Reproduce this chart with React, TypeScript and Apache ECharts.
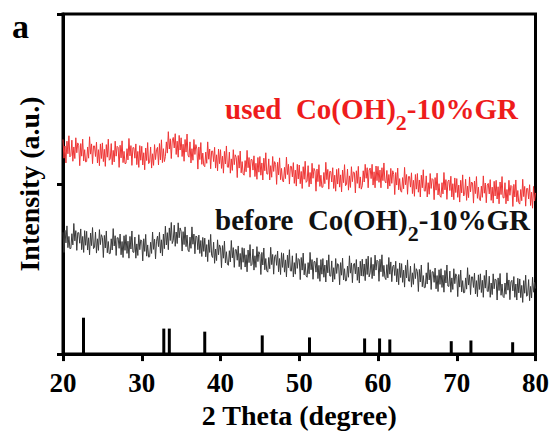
import React, { useEffect, useRef } from "react";
import * as echarts from "echarts";

// Scan grid of the diffractograms (2θ, degrees)
const X_START = 20;
const X_STEP = 0.125;

// used Co(OH)2-10%GR, intensity (a.u.), one value per step (8 per degree)
const usedIntensity = [
  63.1, 57.6, 61.2, 56.2, 62.6, 58.9, 64.2, 58.0,
  58.4, 62.9, 56.7, 60.9, 57.5, 63.6, 59.2, 62.1,
  61.3, 55.4, 61.9, 58.2, 63.2, 56.8, 60.1, 56.5,
  56.6, 60.9, 57.6, 63.9, 58.8, 61.8, 56.0, 61.2,
  61.2, 58.1, 62.3, 56.2, 60.1, 55.4, 61.8, 57.5,
  62.1, 56.6, 60.2, 55.2, 61.6, 57.9, 63.2, 57.0,
  57.4, 61.9, 55.7, 59.9, 56.5, 62.6, 58.2, 61.1,
  60.8, 54.9, 61.4, 57.7, 62.7, 56.3, 59.6, 56.0,
  56.1, 60.4, 57.1, 63.4, 58.3, 61.3, 55.5, 60.7,
  60.7, 57.6, 61.8, 55.7, 59.6, 54.9, 61.3, 57.0,
  61.1, 55.6, 59.2, 54.2, 60.6, 56.9, 62.2, 56.0,
  56.4, 60.9, 54.7, 58.9, 55.5, 61.6, 57.2, 60.1,
  60.8, 55.6, 61.9, 57.1, 63.0, 56.3, 60.4, 56.6,
  58.1, 62.4, 59.1, 65.4, 60.3, 63.3, 57.5, 62.7,
  63.7, 60.6, 64.8, 58.7, 62.6, 57.9, 64.3, 60.0,
  63.6, 58.1, 61.7, 56.7, 63.1, 59.4, 64.7, 58.5,
  57.9, 62.4, 56.2, 60.4, 57.0, 63.1, 58.7, 61.6,
  60.3, 54.4, 60.9, 57.2, 62.2, 55.8, 59.1, 55.5,
  55.1, 59.4, 56.1, 62.4, 57.3, 60.3, 54.5, 59.7,
  59.7, 56.6, 60.8, 54.7, 58.6, 53.9, 60.3, 56.0,
  60.1, 54.6, 58.2, 53.2, 59.6, 55.9, 61.2, 55.0,
  54.9, 59.4, 53.2, 57.4, 54.0, 60.1, 55.7, 58.6,
  57.8, 51.9, 58.4, 54.7, 59.7, 53.3, 56.6, 53.0,
  52.6, 56.9, 53.6, 59.9, 54.8, 57.8, 52.0, 57.2,
  57.2, 54.1, 58.3, 52.2, 56.1, 51.4, 57.8, 53.5,
  58.1, 52.6, 56.2, 51.2, 57.6, 53.9, 59.2, 53.0,
  52.9, 57.4, 51.2, 55.4, 52.0, 58.1, 53.7, 56.6,
  55.8, 49.9, 56.4, 52.7, 57.7, 51.3, 54.6, 51.0,
  50.6, 54.9, 51.6, 57.9, 52.8, 55.8, 50.0, 55.2,
  55.2, 52.1, 56.3, 50.2, 54.1, 49.4, 55.8, 51.5,
  55.6, 50.1, 53.7, 48.7, 55.1, 51.4, 56.7, 50.5,
  50.9, 55.4, 49.2, 53.4, 50.0, 56.1, 51.7, 54.6,
  53.8, 47.9, 54.4, 50.7, 55.7, 49.3, 52.6, 49.0,
  49.1, 53.4, 50.1, 56.4, 51.3, 54.3, 48.5, 53.7,
  53.7, 50.6, 54.8, 48.7, 52.6, 47.9, 54.3, 50.0,
  54.6, 49.1, 52.7, 47.7, 54.1, 50.4, 55.7, 49.5,
  49.9, 54.4, 48.2, 52.4, 49.0, 55.1, 50.7, 53.6,
  53.3, 47.4, 53.9, 50.2, 55.2, 48.8, 52.1, 48.5,
  49.5, 53.9, 50.6, 55.8, 51.7, 54.8, 48.9, 54.1,
  54.7, 51.6, 55.8, 49.7, 53.6, 48.9, 55.3, 51.0,
  55.2, 50.5, 54.1, 48.9, 54.8, 51.0, 56.2, 50.9,
  50.3, 54.0, 48.6, 52.8, 49.4, 54.6, 50.2, 53.9,
  52.8, 46.9, 53.4, 49.7, 54.7, 48.3, 51.6, 48.0,
  47.6, 51.9, 48.6, 54.9, 49.8, 52.8, 47.0, 52.2,
  52.2, 49.1, 53.3, 47.2, 51.1, 46.4, 52.8, 48.5,
  53.1, 47.6, 51.2, 46.2, 52.6, 48.9, 54.2, 48.0,
  47.9, 52.4, 46.2, 50.4, 47.0, 53.1, 48.7, 51.6,
  51.3, 45.4, 51.9, 48.2, 53.2, 46.8, 50.1, 46.5,
  46.1, 50.4, 47.1, 53.4, 48.3, 51.3, 45.5, 50.7,
  51.2, 48.1, 52.3, 46.2, 50.1, 45.4, 51.8, 47.5,
  51.6, 46.1, 49.7, 44.7, 51.1, 47.4, 52.7, 46.5,
  46.9, 51.4, 45.2, 49.4, 46.0, 52.1, 47.7, 50.6,
  50.3, 44.4, 50.9, 47.2, 52.2, 45.8, 49.1, 45.5,
  45.1, 49.4, 46.1, 52.4, 47.3, 50.3, 44.5, 49.7,
  50.2, 47.1, 51.3, 45.2, 49.1, 44.4, 50.8, 46.5,
  51.1, 45.6, 49.2, 44.2, 50.6, 46.9, 52.2, 46.0,
  45.9, 50.4, 44.2, 48.4, 45.0, 51.1, 46.7, 49.6,
  49.3, 43.4, 49.9, 46.2, 51.2, 44.8, 48.1, 44.5,
  44.1, 48.4, 45.1, 51.4, 46.3, 49.3, 43.5, 48.7,
  48.7, 45.6, 49.8, 43.7, 47.6, 42.9, 49.3, 45.0,
  47.4,
];

// before Co(OH)2-10%GR, intensity (a.u.), one value per step (8 per degree)
const beforeIntensity = [
  35.8, 29.9, 36.4, 32.7, 37.7, 31.3, 34.6, 31.0,
  31.1, 35.4, 32.1, 38.4, 33.3, 36.3, 30.5, 35.7,
  35.7, 32.6, 36.8, 30.7, 34.6, 29.9, 36.3, 32.0,
  36.1, 30.6, 34.2, 29.2, 35.6, 31.9, 37.2, 31.0,
  31.4, 35.9, 29.7, 33.9, 30.5, 36.6, 32.2, 35.1,
  34.3, 28.4, 34.9, 31.2, 36.2, 29.8, 33.1, 29.5,
  29.6, 33.9, 30.6, 36.9, 31.8, 34.8, 29.0, 34.2,
  34.2, 31.1, 35.3, 29.2, 33.1, 28.4, 34.8, 30.5,
  35.1, 29.6, 33.2, 28.2, 34.6, 30.9, 36.2, 30.0,
  29.9, 34.4, 28.2, 32.4, 29.0, 35.1, 30.7, 33.6,
  33.3, 27.4, 33.9, 30.2, 35.2, 28.8, 32.1, 28.5,
  28.6, 32.9, 29.6, 35.9, 30.8, 33.8, 28.0, 33.2,
  34.7, 31.6, 35.8, 29.7, 33.6, 28.9, 35.3, 31.0,
  37.6, 32.1, 35.7, 30.7, 37.1, 33.4, 38.7, 32.5,
  33.4, 37.9, 31.7, 35.9, 32.5, 38.6, 34.2, 37.1,
  36.1, 30.3, 36.0, 32.2, 37.4, 31.6, 35.0, 30.6,
  30.1, 34.4, 31.1, 37.4, 32.3, 35.3, 29.5, 34.7,
  34.5, 30.7, 35.0, 29.6, 33.4, 28.7, 34.3, 30.2,
  34.1, 28.6, 32.2, 27.2, 33.6, 29.9, 35.2, 29.0,
  28.4, 32.9, 26.7, 30.9, 27.5, 33.6, 29.2, 32.1,
  31.3, 25.4, 31.9, 28.2, 33.2, 26.8, 30.1, 26.5,
  26.1, 30.4, 27.1, 33.4, 28.3, 31.3, 25.5, 30.7,
  30.7, 27.6, 31.8, 25.7, 29.6, 24.9, 31.3, 27.0,
  31.1, 25.6, 29.2, 24.2, 30.6, 26.9, 32.2, 26.0,
  26.4, 30.9, 24.7, 28.9, 25.5, 31.6, 27.2, 30.1,
  29.3, 23.4, 29.9, 26.2, 31.2, 24.8, 28.1, 24.5,
  24.1, 28.4, 25.1, 31.4, 26.3, 29.3, 23.5, 28.7,
  29.2, 26.1, 30.3, 24.2, 28.1, 23.4, 29.8, 25.5,
  29.6, 24.1, 27.7, 22.7, 29.1, 25.4, 30.7, 24.5,
  24.4, 28.9, 22.7, 26.9, 23.5, 29.6, 25.2, 28.1,
  27.8, 21.9, 28.4, 24.7, 29.7, 23.3, 26.6, 23.0,
  22.6, 26.9, 23.6, 29.9, 24.8, 27.8, 22.0, 27.2,
  27.2, 24.1, 28.3, 22.2, 26.1, 21.4, 27.8, 23.5,
  28.1, 22.6, 26.2, 21.2, 27.6, 23.9, 29.2, 23.0,
  22.9, 27.4, 21.2, 25.4, 22.0, 28.1, 23.7, 26.6,
  26.3, 20.4, 26.9, 23.2, 28.2, 21.8, 25.1, 21.5,
  21.6, 25.9, 22.6, 28.9, 23.8, 26.8, 21.0, 26.2,
  26.7, 23.6, 27.8, 21.7, 25.6, 20.9, 27.3, 23.0,
  27.9, 22.9, 26.5, 21.6, 28.0, 23.4, 28.8, 22.7,
  23.9, 28.4, 22.2, 26.4, 23.0, 29.1, 24.7, 27.6,
  27.3, 21.4, 27.9, 24.2, 29.2, 22.8, 26.1, 22.5,
  21.9, 26.3, 22.4, 28.4, 23.5, 27.1, 21.3, 25.8,
  26.2, 23.1, 27.3, 21.2, 25.1, 20.4, 26.8, 22.5,
  26.6, 21.1, 24.7, 19.7, 26.1, 22.4, 27.7, 21.5,
  21.4, 25.9, 19.7, 23.9, 20.5, 26.6, 22.2, 25.1,
  24.3, 18.4, 24.9, 21.2, 26.2, 19.8, 23.1, 19.5,
  19.6, 23.9, 20.6, 26.9, 21.8, 24.8, 19.0, 24.2,
  24.2, 21.1, 25.3, 19.2, 23.1, 18.4, 24.8, 20.5,
  25.1, 19.6, 23.2, 18.2, 24.6, 20.9, 26.2, 20.0,
  19.9, 24.4, 18.2, 22.4, 19.0, 25.1, 20.7, 23.6,
  22.8, 16.9, 23.4, 19.7, 24.7, 18.3, 21.6, 18.0,
  18.1, 22.4, 19.1, 25.4, 20.3, 23.3, 17.5, 22.7,
  22.7, 19.6, 23.8, 17.7, 21.6, 16.9, 23.3, 19.0,
  23.6, 18.1, 21.7, 16.7, 23.1, 19.4, 24.7, 18.5,
  18.4, 22.9, 16.7, 20.9, 17.5, 23.6, 19.2, 22.1,
  21.8, 15.9, 22.4, 18.7, 23.7, 17.3, 20.6, 17.0,
  16.6, 20.9, 17.6, 23.9, 18.8, 21.8, 16.0, 21.2,
  21.7, 18.6, 22.8, 16.7, 20.6, 15.9, 22.3, 18.0,
  22.1, 16.6, 20.2, 15.2, 21.6, 17.9, 23.2, 17.0,
  17.4, 21.9, 15.7, 19.9, 16.5, 22.6, 18.2, 21.1,
  19.3,
];

// Reference stick pattern: peak positions (2θ) and relative heights
const refPeaks = [22.6, 32.8, 33.5, 38.0, 45.3, 51.3, 58.3, 60.2, 61.5, 69.3, 71.8, 77.1];
const refHeights = [10.7, 7.5, 7.5, 6.6, 5.5, 4.9, 4.6, 4.6, 4.3, 3.8, 4.0, 3.5];

const SERIF = '"Liberation Serif", "Times New Roman", serif';

const toPairs = (vals: number[]) => vals.map((v, i) => [X_START + i * X_STEP, v]);

function sampleLabel(prefix: string, color: string) {
  const main = { fontSize: 29, fontWeight: "bold", fontFamily: SERIF, fill: color, lineHeight: 48 };
  return {
    text: `{m|${prefix}  Co(OH)}{s|2}{m|-10%GR}`,
    rich: {
      m: main,
      s: { ...main, fontSize: 22, lineHeight: 22, verticalAlign: "bottom" },
    },
    verticalAlign: "middle",
    fill: color,
  };
}

export default function App() {
  const ref = useRef<HTMLDivElement>(null);

  useEffect(() => {
    if (!ref.current) return;
    const chart = echarts.init(ref.current, undefined, { renderer: "svg" });
    const axisLine = { show: true, lineStyle: { color: "#000", width: 3 } };
    chart.setOption({
      animation: false,
      backgroundColor: "#fff",
      grid: {
        left: 63,
        right: 16,
        top: 14,
        bottom: 74,
        show: true,
        borderColor: "#000",
        borderWidth: 3,
      },
      xAxis: {
        type: "value",
        min: 20,
        max: 80,
        interval: 10,
        axisLine,
        axisTick: { show: true, length: 7, lineStyle: { color: "#000", width: 3 } },
        axisLabel: {
          color: "#000",
          fontSize: 27,
          fontWeight: "bold",
          fontFamily: SERIF,
          margin: 15,
        },
        splitLine: { show: false },
        name: "2 Theta (degree)",
        nameLocation: "middle",
        nameGap: 44,
        nameTextStyle: { color: "#000", fontSize: 28, fontWeight: "bold", fontFamily: SERIF },
      },
      yAxis: {
        type: "value",
        min: 0,
        max: 100,
        interval: 50,
        axisLine,
        axisTick: { show: true, length: 6, lineStyle: { color: "#000", width: 3 } },
        axisLabel: { show: false },
        splitLine: { show: false },
        name: "Intensity (a.u.)",
        nameLocation: "middle",
        nameGap: 20,
        nameTextStyle: { color: "#000", fontSize: 28, fontWeight: "bold", fontFamily: SERIF },
      },
      series: [
        {
          name: "used",
          type: "line",
          data: toPairs(usedIntensity),
          showSymbol: false,
          symbol: "none",
          sampling: undefined,
          lineStyle: { color: "#ee3535", width: 1 },
          itemStyle: { color: "#ee3535" },
          z: 3,
        },
        {
          name: "before",
          type: "line",
          data: toPairs(beforeIntensity),
          showSymbol: false,
          symbol: "none",
          lineStyle: { color: "#3a3a3a", width: 1 },
          itemStyle: { color: "#3a3a3a" },
          z: 3,
        },
        {
          name: "reference",
          type: "bar",
          data: refPeaks.map((x, i) => [x, refHeights[i]]),
          barWidth: 3,
          itemStyle: { color: "#000" },
          z: 2,
        },
      ],
      graphic: [
        {
          type: "text",
          x: 12,
          y: 26,
          style: {
            text: "a",
            fontSize: 34,
            fontWeight: "bold",
            fontFamily: SERIF,
            fill: "#000",
            verticalAlign: "middle",
          },
        },
        { type: "text", x: 225, y: 109, style: sampleLabel("used", "#ee1c1c") },
        { type: "text", x: 215, y: 220, style: sampleLabel("before", "#111") },
      ],
    });
    return () => chart.dispose();
  }, []);

  return (
    <div
      ref={ref}
      style={{ position: "absolute", left: 0, top: 0, width: 552, height: 434 }}
    />
  );
}
